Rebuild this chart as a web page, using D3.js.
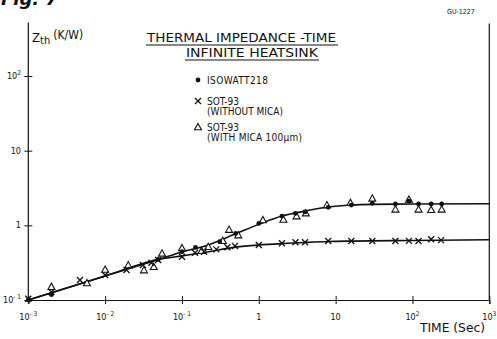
<!DOCTYPE html>
<html><head><meta charset="utf-8">
<script src="https://cdn.jsdelivr.net/npm/d3@7"></script>
<style>
body{margin:0;background:#fff;}
svg{display:block;}
text{font-family:"DejaVu Sans Condensed","Liberation Sans Narrow","DejaVu Sans",sans-serif;fill:#111;}
</style></head>
<body>
<svg id="c" width="497" height="339"></svg>
<script>
// ---- data ----
const xTicks = [1e-3, 1e-2, 1e-1, 1, 10, 100, 1000];
const xTickLabels = ["10^-3", "10^-2", "10^-1", "1", "10", "10^2", "10^3"];
const yTicks = [0.1, 1, 10, 100];
const yTickLabels = ["10^-1", "1", "10", "10^2"];

const isoTime = [0.001, 0.002, 0.049, 0.1, 0.15, 0.31, 0.5, 1, 2, 3, 4, 8, 16, 30, 60, 90, 120, 175, 240];
const isoZ    = [0.1, 0.118, 0.35, 0.443, 0.508, 0.603, 0.78, 1.06, 1.33, 1.45, 1.51, 1.74, 1.87, 1.97, 1.93, 2.11, 1.93, 1.93, 1.93];

const noMicaTime = [0.001, 0.002, 0.0047, 0.01, 0.019, 0.031, 0.04, 0.049, 0.1, 0.148, 0.194, 0.28, 0.39, 0.49, 1, 2, 3, 4, 8, 16, 30, 60, 90, 120, 175, 236];
const noMicaZ    = [0.104, 0.128, 0.185, 0.216, 0.252, 0.294, 0.316, 0.343, 0.38, 0.43, 0.443, 0.477, 0.508, 0.528, 0.545, 0.574, 0.592, 0.592, 0.616, 0.616, 0.616, 0.616, 0.62, 0.616, 0.65, 0.634];

const micaTime = [0.002, 0.0058, 0.01, 0.02, 0.032, 0.043, 0.055, 0.1, 0.18, 0.22, 0.34, 0.41, 0.54, 1.13, 2.09, 3.1, 4.1, 7.7, 15.6, 30, 60, 90, 120, 175, 240];
const micaZ    = [0.151, 0.169, 0.256, 0.294, 0.252, 0.279, 0.422, 0.497, 0.457, 0.517, 0.622, 0.878, 0.741, 1.18, 1.2, 1.33, 1.46, 1.87, 2.01, 2.3, 1.64, 2.22, 1.64, 1.62, 1.64];

const curveTime  = [0.001, 0.01, 0.05, 0.1, 0.2, 0.5, 1, 2, 4, 8, 16, 30, 100, 1000];
const curveUpper = [0.1, 0.21, 0.35, 0.44, 0.53, 0.77, 1.03, 1.33, 1.55, 1.76, 1.87, 1.91, 1.93, 1.95];
const curveLower = [0.1, 0.21, 0.35, 0.39, 0.435, 0.51, 0.545, 0.57, 0.59, 0.607, 0.615, 0.62, 0.626, 0.64];

const yAxisTop = 520;

// ---- drawing ----
const svg = d3.select("#c");
const x = d3.scaleLog().domain([1e-3, 1e3]).range([28.3, 489.3]);
const y = d3.scaleLog().domain([0.1, 100]).range([300, 76]);

function labelParts(sel, s){
  const p = s.split("^");
  sel.append("tspan").text(p[0]);
  if(p.length>1) sel.append("tspan").attr("dy", -4).attr("font-size", "6.5px").text(p[1].replace("-", "- "));
}

// frame lines
svg.append("line").attr("x1", x(1e-3)).attr("x2", x(1e-3)).attr("y1", y(yAxisTop)).attr("y2", y(0.1)).attr("stroke", "#111").attr("stroke-width", 1.2);
svg.append("line").attr("x1", x(1e3)).attr("x2", x(1e3)).attr("y1", y(yAxisTop) + 1).attr("y2", y(0.1)).attr("stroke", "#111").attr("stroke-width", 1.2);

// x axis
const xa = svg.append("g").attr("transform", `translate(0,${y(0.1)})`)
  .call(d3.axisBottom(x).tickValues(xTicks).tickSize(4).tickFormat(""));
xa.select(".domain").attr("stroke", "#111").attr("stroke-width", 1.2);
xa.selectAll(".tick line").attr("y1", -4).attr("y2", 4).attr("stroke", "#111");
xTicks.forEach((t, i) => {
  const tx = svg.append("text").attr("x", x(t)).attr("y", 320).attr("text-anchor", "middle").attr("font-size", "9px");
  labelParts(tx, xTickLabels[i]);
});

// y axis ticks
const ya = svg.append("g").attr("transform", `translate(${x(1e-3)},0)`)
  .call(d3.axisLeft(y).tickValues(yTicks).tickSize(4).tickFormat(""));
ya.select(".domain").remove();
ya.selectAll(".tick line").attr("x1", -4).attr("x2", 4).attr("stroke", "#111");
yTicks.forEach((v, i) => {
  const tx = svg.append("text").attr("x", 21).attr("y", y(v) + 3).attr("text-anchor", "end").attr("font-size", "9px");
  labelParts(tx, yTickLabels[i]);
});

// curves
const line = d3.line().x(d => x(d[0])).y(d => y(d[1])).curve(d3.curveMonotoneX);
[curveUpper, curveLower].forEach(c => {
  svg.append("path").datum(curveTime.map((t, i) => [t, c[i]]))
    .attr("d", line).attr("fill", "none").attr("stroke", "#111").attr("stroke-width", 1.6);
});

// markers
function drawDot(g, cx, cy){ g.append("circle").attr("cx", cx).attr("cy", cy).attr("r", 2.4).attr("fill", "#111"); }
function drawX(g, cx, cy){
  const s = 3;
  g.append("path").attr("d", `M${cx-s},${cy-s}L${cx+s},${cy+s}M${cx-s},${cy+s}L${cx+s},${cy-s}`)
    .attr("stroke", "#111").attr("stroke-width", 1.3).attr("fill", "none");
}
function drawTri(g, cx, cy){
  const s = 3.5;
  g.append("path").attr("d", `M${cx},${cy-s}L${cx+s},${cy+s*0.8}L${cx-s},${cy+s*0.8}Z`)
    .attr("stroke", "#111").attr("stroke-width", 1.1).attr("fill", "#fff");
}
const gm = svg.append("g");
micaTime.forEach((t, i) => drawTri(gm, x(t), y(micaZ[i])));
noMicaTime.forEach((t, i) => drawX(gm, x(t), y(noMicaZ[i])));
isoTime.forEach((t, i) => drawDot(gm, x(t), y(isoZ[i])));

// titles and labels
svg.append("text").attr("x", 1).attr("y", 5).attr("font-size", "18px").attr("font-weight", "bold").attr("font-style", "italic")
  .style("font-family", "'DejaVu Sans', sans-serif").text("Fig. 7");
svg.append("text").attr("x", 447).attr("y", 14).attr("font-size", "7px").text("GU-1227");

const zl = svg.append("text").attr("x", 32).attr("y", 42).attr("font-size", "13px");
zl.append("tspan").text("Z");
zl.append("tspan").attr("dy", 2).attr("font-size", "11px").text("th ");
zl.append("tspan").attr("dy", -5).attr("font-size", "12px").text("(K/W)");

svg.append("text").attr("x", 147).attr("y", 42).attr("font-size", "13px").attr("textLength", 189).attr("lengthAdjust", "spacingAndGlyphs").text("THERMAL IMPEDANCE -TIME");
svg.append("line").attr("x1", 146).attr("x2", 338).attr("y1", 45).attr("y2", 45).attr("stroke", "#111").attr("stroke-width", 1.1);
svg.append("text").attr("x", 186).attr("y", 57).attr("font-size", "13px").attr("textLength", 132).attr("lengthAdjust", "spacingAndGlyphs").text("INFINITE HEATSINK");
svg.append("line").attr("x1", 185).attr("x2", 319).attr("y1", 60).attr("y2", 60).attr("stroke", "#111").attr("stroke-width", 1.1);

// legend
const lg = svg.append("g");
drawDot(lg, 198, 80);
lg.append("text").attr("x", 207).attr("y", 83.5).attr("font-size", "10px").attr("textLength", 61).text("ISOWATT218");
drawX(lg, 198, 101);
lg.append("text").attr("x", 207).attr("y", 104.5).attr("font-size", "10px").text("SOT-93");
lg.append("text").attr("x", 207).attr("y", 114.5).attr("font-size", "10px").attr("textLength", 76).text("(WITHOUT MICA)");
drawTri(lg, 198, 127);
lg.append("text").attr("x", 207).attr("y", 131).attr("font-size", "10px").text("SOT-93");
lg.append("text").attr("x", 207).attr("y", 141).attr("font-size", "10px").attr("textLength", 95).text("(WITH MICA 100μm)");

svg.append("text").attr("x", 420).attr("y", 332).attr("font-size", "13px").attr("textLength", 65).attr("lengthAdjust", "spacingAndGlyphs").text("TIME (Sec)");
</script>
</body></html>
